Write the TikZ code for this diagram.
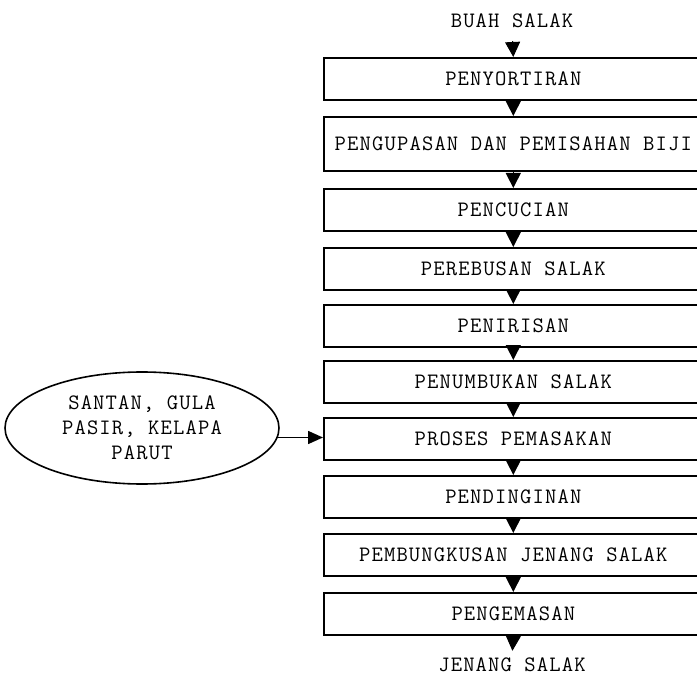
\documentclass[tikz,border=0pt]{standalone}
\usepackage{fontspec}
\setmonofont{Latin Modern Mono}[LetterSpace=5.2]
\usetikzlibrary{arrows.meta,shapes.geometric}
\begin{document}
\begin{tikzpicture}[x=1pt,y=-1pt,
  txt/.style={font=\ttfamily\fontsize{22}{25}\selectfont},
  stepbox/.style={draw, line width=1.6pt, minimum width=379pt, minimum height=42pt,
    inner sep=0pt, txt, anchor=north west},
  flow/.style={-{Triangle[width=15pt,length=15pt]}, line width=1pt},
  feed/.style={-{Triangle[width=13pt,length=15pt]}, line width=1.6pt},
  src/.style={draw, ellipse, line width=1.6pt, minimum width=274pt, minimum height=112pt,
    inner sep=0pt, txt, align=center}]
\useasboundingbox (0,0) rectangle (697,682);
\clip (0,0) rectangle (697,682);
\fill[white] (0,0) rectangle (697,682);
\node[txt, inner sep=0pt] (in) at (512,21) {BUAH SALAK};
\node[stepbox] (b1) at (323,57) {PENYORTIRAN};
\node[stepbox, minimum height=54pt] (b2) at (323,116) {PENGUPASAN DAN PEMISAHAN BIJI};
\node[stepbox] (b3) at (323,188) {PENCUCIAN};
\node[stepbox] (b4) at (323,247) {PEREBUSAN SALAK};
\node[stepbox] (b5) at (323,304) {PENIRISAN};
\node[stepbox] (b6) at (323,360) {PENUMBUKAN SALAK};
\node[stepbox] (b7) at (323,417) {PROSES PEMASAKAN};
\node[stepbox] (b8) at (323,475) {PENDINGINAN};
\node[stepbox] (b9) at (323,533) {PEMBUNGKUSAN JENANG SALAK};
\node[stepbox] (b10) at (323,592) {PENGEMASAN};
\node[txt, inner sep=0pt] (out) at (512,665) {JENANG SALAK};
\node[src] (ell) at (142,428) {SANTAN, GULA\\PASIR, KELAPA\\PARUT};
\draw[flow, shorten <=13pt] (in.south) -- (b1.north);
\draw[flow] (b1.south) -- (b2.north);
\draw[flow] (b2.south) -- (b3.north);
\draw[flow] (b3.south) -- (b4.north);
\draw[flow] (b4.south) -- (b5.north);
\draw[flow] (b5.south) -- (b6.north);
\draw[flow] (b6.south) -- (b7.north);
\draw[flow] (b7.south) -- (b8.north);
\draw[flow] (b8.south) -- (b9.north);
\draw[flow] (b9.south) -- (b10.north);
\draw[flow, shorten >=7pt] (b10.south) -- (out.north);
\draw[feed] (ell.-4) -- (ell.-4 -| b7.west);
\end{tikzpicture}
\end{document}
